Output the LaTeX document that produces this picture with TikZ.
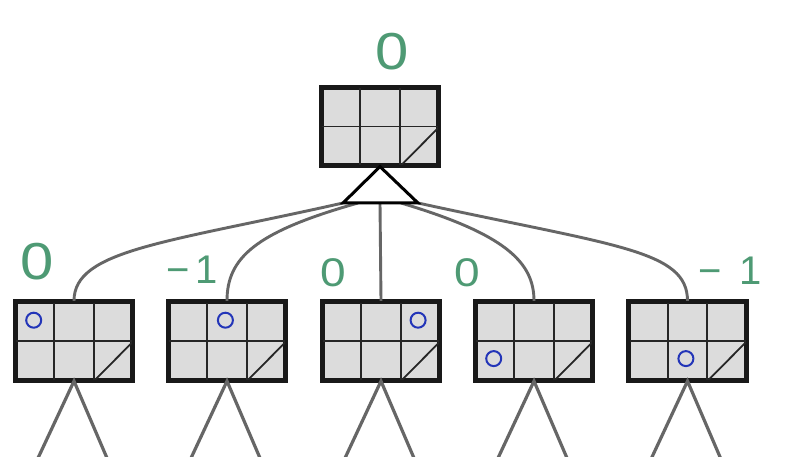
\documentclass[tikz,border=0pt]{standalone}
\usepackage{fontspec}
\usepackage{graphicx}
\setmainfont{Liberation Sans}
\usetikzlibrary{calc}
\definecolor{boardfill}{HTML}{DCDCDC}
\definecolor{edgegray}{HTML}{666666}
\definecolor{scoregreen}{HTML}{4E9A74}
\definecolor{moveblue}{HTML}{2335B8}
\newcommand{\widezero}{\scalebox{1.15}[1]{0}}
\tikzset{
  board/.style={draw=black!90, line width=3.2pt, fill=boardfill,
    minimum width=116pt, minimum height=77pt, inner sep=0pt},
  gridline/.style={draw=black!85, line width=1.8pt},
  edge/.style={draw=edgegray, line width=2.9pt},
  leg/.style={draw=edgegray, line width=3.2pt},
  movering/.style={circle, draw=moveblue, line width=2pt,
    minimum size=15pt, inner sep=0pt},
  score/.style={text=scoregreen, font=\fontsize{52}{52}\selectfont, inner sep=0pt},
  smallscore/.style={text=scoregreen, font=\fontsize{40}{40}\selectfont, inner sep=0pt},
}
\begin{document}
\begin{tikzpicture}[x=1pt,y=-1pt]
  \useasboundingbox (0,0) rectangle (790,457);
  \clip (0,0) rectangle (790,457);
  \fill[white] (0,0) rectangle (790,457);

  % boards
  \node[board] (top) at (380,126.5) {};
  \node[board] (b1) at (74,341) {};
  \node[board] (b2) at (227,341) {};
  \node[board] (b3) at (381,341) {};
  \node[board] (b4) at (534,341) {};
  \node[board] (b5) at (687.5,341) {};

  % grid lines and the half-filled corner cell
  \foreach \b in {top,b1,b2,b3,b4,b5} {
    \draw[gridline] ($(\b.north west)!1/3!(\b.north east)$) -- ($(\b.south west)!1/3!(\b.south east)$);
    \draw[gridline] ($(\b.north west)!2/3!(\b.north east)$) -- ($(\b.south west)!2/3!(\b.south east)$);
    \draw[gridline] (\b.west) -- (\b.east);
    \draw[gridline] ($(\b.south west)!2/3!(\b.south east)$) -- (\b.east);
    \draw[board, fill=none] (\b.north west) rectangle (\b.south east);
  }

  % move markers
  \node[movering] (m1) at ($(b1.north west)+(19.3,19.3)$) {};
  \node[movering] (m2) at ($(b2.north west)+(58,19.3)$) {};
  \node[movering] (m3) at ($(b3.north west)+(96.7,19.3)$) {};
  \node[movering] (m4) at ($(b4.north west)+(19.3,57.7)$) {};
  \node[movering] (m5) at ($(b5.north west)+(58,57.7)$) {};

  % branching triangle below the root
  \coordinate (apex) at (top.south);
  \coordinate (tl) at (343,203);
  \coordinate (tm1) at (358,203);
  \coordinate (tm) at (380,203);
  \coordinate (tm2) at (401,203);
  \coordinate (tr) at (418,203);

  \draw[edge] (tl) .. controls (165,243) and (74,250) .. (b1.north);
  \draw[edge] (tm1) .. controls (255,232) and (227,258) .. (b2.north);
  \draw[edge] (tm) -- (b3.north);
  \draw[edge] (tm2) .. controls (505,234) and (534,262) .. (b4.north);
  \draw[edge] (tr) .. controls (615,246) and (687.5,250) .. (b5.north);

  \draw[line width=3pt, line join=miter, fill=white] (apex) -- (tr) -- (tl) -- cycle;

  % legs leading to deeper levels
  \foreach \b in {b1,b2,b3,b4,b5} {
    \coordinate (\b-l) at ($(\b.south)+(-36,77)$);
    \coordinate (\b-r) at ($(\b.south)+(33,77)$);
    \draw[leg] (\b-l) -- (\b.south) -- (\b-r);
  }

  % scores
  \node[score] (s0) at (392,52) {\widezero};
  \node[score] (s1) at (37,262) {\widezero};
  \node[smallscore] (s2) at (192,270) {−\hspace{6pt}1};
  \node[smallscore] (s3) at (333,273) {\widezero};
  \node[smallscore] (s4) at (467,273) {\widezero};
  \node[smallscore] (s5) at (730,271) {−\hspace{18pt}1};
\end{tikzpicture}
\end{document}
